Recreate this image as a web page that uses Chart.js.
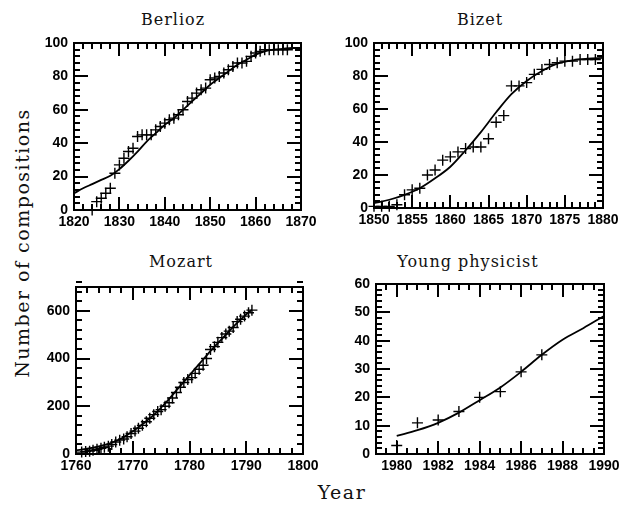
<!DOCTYPE html>
<html>
<head>
<meta charset="utf-8">
<script src="https://cdn.jsdelivr.net/npm/chart.js@4.4.1/dist/chart.umd.min.js"></script>
<style>
html,body{margin:0;padding:0;background:#fff;overflow:hidden}
#page{position:relative;width:626px;height:511px;overflow:hidden}
.panel{position:absolute}
.lbl{position:absolute;font-family:"DejaVu Serif",serif;color:#111;white-space:nowrap;line-height:1}
</style>
</head>
<body>
<div id="page">
  <div class="lbl" style="left:173px;top:20px;font-size:16px;letter-spacing:1px;transform:translate(-50%,-50%)">Berlioz</div>
  <div class="lbl" style="left:480px;top:20px;font-size:16px;letter-spacing:1px;transform:translate(-50%,-50%)">Bizet</div>
  <div class="lbl" style="left:181px;top:262px;font-size:16px;letter-spacing:1px;transform:translate(-50%,-50%)">Mozart</div>
  <div class="lbl" style="left:468px;top:262px;font-size:16px;letter-spacing:1px;transform:translate(-50%,-50%)">Young physicist</div>
  <div class="lbl" style="left:22px;top:243px;font-size:19px;letter-spacing:1.5px;transform:translate(-50%,-50%) rotate(-90deg)">Number of compositions</div>
  <div class="lbl" style="left:342px;top:492px;font-size:19px;letter-spacing:1.5px;transform:translate(-50%,-50%)">Year</div>
</div>
<script>
// ---- data ----
const berliozYears  = [1824,1825,1826,1827,1828,1829,1830,1831,1832,1833,1834,1835,1836,1837,1838,1839,1840,1841,1842,1843,1844,1845,1846,1847,1848,1849,1850,1851,1852,1853,1854,1855,1856,1857,1858,1859,1860,1861,1862,1863,1864,1865,1866,1867];
const berliozCounts = [0,5,7,10,13,22,27,31,35,37,44,45,45,45,48,50,52,54,55,57,60,65,67,70,72,73,78,79,80,82,84,86,88,88,89,92,94,95,96,96,96,96,96,96];
const berliozFitYears = [1820,1822,1824,1826,1828,1830,1832,1834,1836,1838,1840,1842,1844,1846,1848,1850,1852,1854,1856,1858,1860,1862,1864,1866,1868,1870];
const berliozFit      = [10,13,15.5,18,20.5,24.5,29.5,35,41,46,51,55,60,65,70,75,79,83,87,90,93,95,96,96.5,97,97];

const bizetYears  = [1850,1851,1852,1853,1854,1855,1856,1857,1858,1859,1860,1861,1862,1863,1864,1865,1866,1867,1868,1869,1870,1871,1872,1873,1874,1875,1876,1877,1878,1879];
const bizetCounts = [1,1,1,2,8,11,12,20,23,29,31,34,36,37,37,42,52,56,74,74,76,81,84,87,88,89,89,90,90,90];
const bizetFitYears = [1850,1852,1854,1856,1858,1860,1862,1864,1866,1868,1870,1872,1874,1876,1878,1880];
const bizetFit      = [3,5,8,12,18,25,35,46,58,69,77,83,87.5,89.5,90.5,91];

const mozartYears  = [1761,1761.7,1762.4,1763,1763.7,1764.4,1765,1765.7,1766.3,1767,1767.7,1768.4,1769,1769.7,1770.4,1771,1771.7,1772.4,1773,1773.7,1774.4,1775,1775.7,1776.4,1777,1777.7,1778.4,1779,1779.7,1780.4,1781,1781.7,1782.4,1783,1783.7,1784.4,1785,1785.7,1786.4,1787,1787.7,1788.4,1789,1789.7,1790.4,1791];
const mozartCounts = [8,10,12,16,20,24,28,33,40,50,58,63,72,86,96,108,120,135,150,165,178,186,200,215,235,258,280,300,312,320,338,355,372,400,438,450,468,488,503,515,530,555,565,578,592,603];
const mozartFitYears = [1760,1762,1764,1766,1768,1770,1772,1774,1776,1778,1780,1782,1784,1786,1788,1790,1791];
const mozartFit      = [15,22,32,45,65,95,130,170,220,275,330,385,440,490,540,585,605];

const youngYears  = [1980,1981,1982,1983,1984,1985,1986,1987];
const youngCounts = [3,11,12,15,20,22,29,35];
const youngFitYears = [1980,1981,1982,1983,1984,1985,1986,1987,1988,1989,1990];
const youngFit      = [6.4,8.4,11,14.6,19,23.5,29,35,40.3,44.4,48.7];

// ---- panel layout (page pixels of each plot frame) ----
const panels = [
  {area:[74,301,43,210],  xr:[1820,1870,10,2],  yr:[0,100,20,4],  px:berliozYears, py:berliozCounts, fx:berliozFitYears, fy:berliozFit},
  {area:[374,603,43,208], xr:[1850,1880,5,1],   yr:[0,100,20,4],  px:bizetYears,   py:bizetCounts,   fx:bizetFitYears,   fy:bizetFit},
  {area:[76,303,287,454], xr:[1760,1800,10,2],  yr:[0,700,200,40],px:mozartYears,  py:mozartCounts,  fx:mozartFitYears,  fy:mozartFit},
  {area:[376,604,284,454],xr:[1979,1990,2,0.5], yr:[0,60,10,2],   px:youngYears,   py:youngCounts,   fx:youngFitYears,   fy:youngFit}
];

const INK = '#000000';
const YW = 40, XH = 22, PL = 50, PR = 25, PT = 18, PB = 30;

// frame with inward major/minor ticks on all four sides
function frameTicks(xMinor, yMinor) {
  return {
    id:'frameTicks',
    afterDraw(chart) {
      const {ctx, chartArea:{left,right,top,bottom}} = chart;
      const x = chart.scales.x, y = chart.scales.y;
      const major = (s,v) => s.ticks.some(t => Math.abs(t.value - v) < 1e-6);
      ctx.save();
      ctx.strokeStyle = '#000';
      ctx.lineWidth = 2;
      ctx.lineCap = 'butt';
      let n = Math.round((x.max - x.min) / xMinor);
      for (let i = 0; i <= n; i++) {
        const v = x.min + i * xMinor;
        const len = major(x, v) ? 13 : 6;
        const p = Math.round(x.getPixelForValue(v));
        ctx.beginPath();
        ctx.moveTo(p, bottom); ctx.lineTo(p, bottom - len);
        ctx.moveTo(p, top);    ctx.lineTo(p, top + len);
        ctx.stroke();
      }
      n = Math.round((y.max - y.min) / yMinor);
      for (let i = 0; i <= n; i++) {
        const v = y.min + i * yMinor;
        const len = major(y, v) ? 14 : 6;
        const p = Math.round(y.getPixelForValue(v));
        ctx.beginPath();
        ctx.moveTo(left, p);  ctx.lineTo(left + len, p);
        ctx.moveTo(right, p); ctx.lineTo(right - len, p);
        ctx.stroke();
      }
      ctx.strokeRect(left, top, right - left, bottom - top);
      ctx.restore();
    }
  };
}

const tickFont = {family:'"Liberation Sans", Arial, sans-serif', size:14, weight:'bold'};

panels.forEach(pn => {
  const [l, r, t, b] = pn.area;
  const w = r - l + PL + PR, h = b - t + PT + PB;
  const box = document.createElement('div');
  box.className = 'panel';
  box.style.left = (l - PL) + 'px';
  box.style.top = (t - PT) + 'px';
  box.style.width = w + 'px';
  box.style.height = h + 'px';
  const cv = document.createElement('canvas');
  cv.width = w; cv.height = h;
  box.appendChild(cv);
  document.getElementById('page').appendChild(box);

  const pts = pn.px.map((v, i) => ({x:v, y:pn.py[i]}));
  const fit = pn.fx.map((v, i) => ({x:v, y:pn.fy[i]}));

  new Chart(cv, {
    type:'scatter',
    plugins:[frameTicks(pn.xr[3], pn.yr[3])],
    data:{
      datasets:[
        {type:'line', data:fit, borderColor:INK, borderWidth:1.8, pointRadius:0,
         showLine:true, fill:false, cubicInterpolationMode:'monotone'},
        {data:pts, pointStyle:'cross', pointRadius:5.5, pointBorderWidth:1.4,
         borderColor:INK, backgroundColor:INK, clip:8}
      ]
    },
    options:{
      responsive:false, animation:false, devicePixelRatio:1,
      layout:{padding:{left:PL - YW, right:PR, top:PT, bottom:PB - XH}},
      plugins:{legend:{display:false}, tooltip:{enabled:false}},
      scales:{
        x:{type:'linear', min:pn.xr[0], max:pn.xr[1],
           grid:{display:false, drawTicks:false}, border:{display:false},
           ticks:{stepSize:pn.xr[2], includeBounds:false, autoSkip:false, maxRotation:0,
                  padding:4, color:INK, font:tickFont, callback:v => String(v)},
           afterFit:s => { s.height = XH; }},
        y:{type:'linear', min:pn.yr[0], max:pn.yr[1],
           grid:{display:false, drawTicks:false}, border:{display:false},
           ticks:{stepSize:pn.yr[2], includeBounds:false, autoSkip:false,
                  padding:6, color:INK, font:tickFont, callback:v => String(v)},
           afterFit:s => { s.width = YW; }}
      }
    }
  });
});
</script>
</body>
</html>
